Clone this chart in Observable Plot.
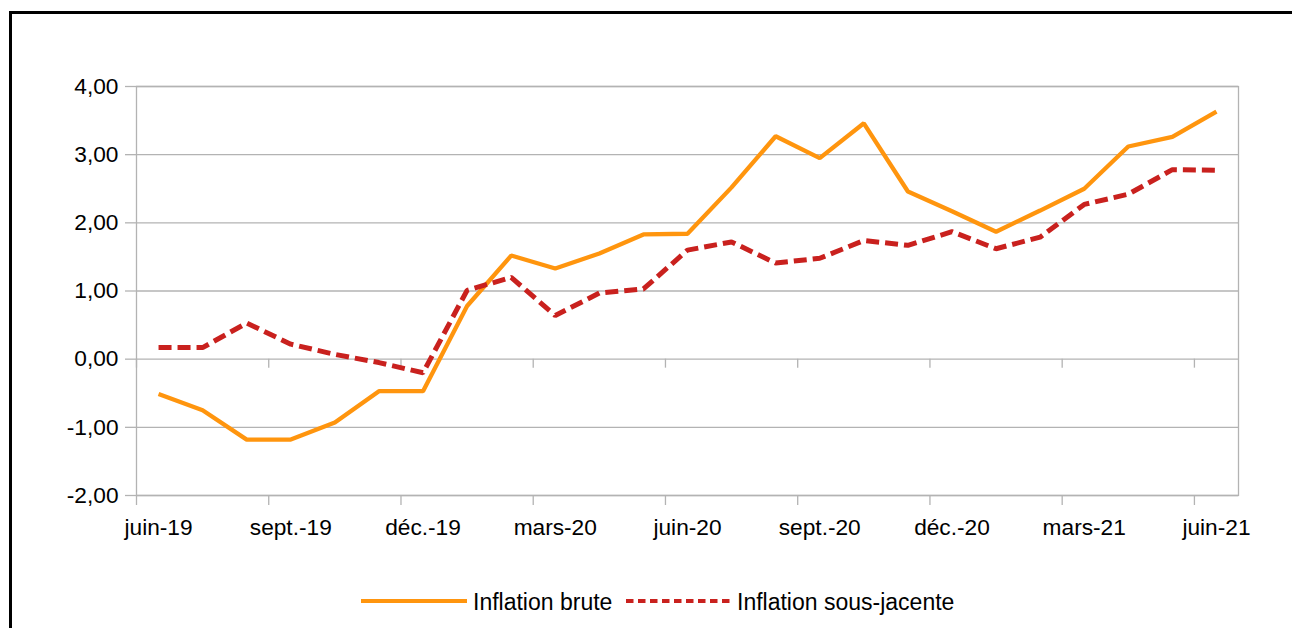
<!DOCTYPE html>
<html>
<head>
<meta charset="utf-8">
<script src="https://cdn.jsdelivr.net/npm/d3@7"></script>
<script src="https://cdn.jsdelivr.net/npm/@observablehq/plot@0.6"></script>
<style>
  html, body { margin: 0; padding: 0; background: #fff; }
  body { width: 1292px; height: 628px; position: relative; overflow: hidden; font-family: "Liberation Sans", Arial, sans-serif; }
  #frame { position: absolute; left: 9px; top: 11px; width: 1400px; height: 700px; border-left: 3px solid #000; border-top: 3px solid #000; box-sizing: border-box; }
  #chart { position: absolute; left: 0; top: 0; }
  #legend { position: absolute; left: 0; top: 0; width: 1292px; height: 628px; pointer-events: none; }
</style>
</head>
<body>
<div id="frame"></div>
<div id="chart"></div>
<div id="legend"></div>
<script>
// ---- data ----
const months = ["juin-19","juil.-19","août-19","sept.-19","oct.-19","nov.-19","déc.-19",
  "janv.-20","févr.-20","mars-20","avr.-20","mai-20","juin-20","juil.-20","août-20","sept.-20",
  "oct.-20","nov.-20","déc.-20","janv.-21","févr.-21","mars-21","avr.-21","mai-21","juin-21"];
const inflationBrute = [-0.51,-0.75,-1.18,-1.18,-0.93,-0.47,-0.47,0.78,1.52,1.33,1.55,1.83,1.84,
  2.52,3.27,2.95,3.46,2.46,2.17,1.87,2.18,2.50,3.12,3.26,3.63];
const inflationSousJacente = [0.17,0.17,0.53,0.22,0.07,-0.05,-0.20,1.01,1.20,0.64,0.97,1.03,1.60,
  1.72,1.41,1.48,1.74,1.67,1.87,1.62,1.79,2.27,2.42,2.78,2.77];
const yTicks = [-2,-1,0,1,2,3,4];
const labelIndex = [0,3,6,9,12,15,18,21,24];
const seriesNames = ["Inflation brute","Inflation sous-jacente"];

// ---- build table ----
const rows = months.map((m, i) => ({i, month: m, brute: inflationBrute[i], sj: inflationSousJacente[i]}));
const boundaries = labelIndex.map(i => i - 0.5);
const gray = "#b3b3b3";
const orange = "#ff950e";
const red = "#c9211e";
const fmt = d => d.toFixed(2).replace(".", ",");
const FONT = "Liberation Sans, Arial, sans-serif";

const chart = Plot.plot({
  width: 1292,
  height: 560,
  marginLeft: 136,
  marginRight: 54,
  marginTop: 86,
  marginBottom: 65,
  style: {fontFamily: FONT, fontSize: "22.7px", color: "#000", background: "transparent", overflow: "visible"},
  x: {type: "linear", domain: [-0.5, months.length - 0.5], axis: null},
  y: {domain: [-2, 4], axis: null},
  marks: [
    Plot.ruleY(yTicks, {stroke: gray, strokeWidth: 1.3}),
    Plot.frame({stroke: gray, strokeWidth: 1.3}),
    Plot.ruleX(boundaries, {x: d => d, y1: 0, y2: 0, insetBottom: -9, stroke: gray, strokeWidth: 1.3}),
    Plot.axisY(yTicks, {label: null, tickSize: 11, tickPadding: 7, tickFormat: fmt, stroke: gray, strokeWidth: 1.3, strokeOpacity: 1, fill: "#000"}),
    Plot.axisX(boundaries, {label: null, tickSize: 10, tickFormat: () => "", stroke: gray, strokeWidth: 1.3, strokeOpacity: 1}),
    Plot.axisX(labelIndex, {label: null, tickSize: 0, tickPadding: 23, tickFormat: d => months[d], fill: "#000"}),
    Plot.line(rows, {x: "i", y: "brute", stroke: orange, strokeWidth: 4.3, strokeLinejoin: "miter", strokeLinecap: "butt"}),
    Plot.line(rows, {x: "i", y: "sj", stroke: red, strokeWidth: 5, strokeDasharray: "13,6", strokeLinejoin: "miter", strokeLinecap: "butt"})
  ]
});
document.getElementById("chart").appendChild(chart);

// ---- legend ----
const lg = document.getElementById("legend");
const ns = "http://www.w3.org/2000/svg";
const sw = document.createElementNS(ns, "svg");
sw.setAttribute("width", 1292); sw.setAttribute("height", 628);
sw.style.position = "absolute"; sw.style.left = "0"; sw.style.top = "0";
function mk(tag, attrs) {
  const el = document.createElementNS(ns, tag);
  for (const k in attrs) el.setAttribute(k, attrs[k]);
  sw.appendChild(el);
  return el;
}
mk("line", {x1: 361, x2: 467, y1: 601, y2: 601, stroke: orange, "stroke-width": 4});
mk("line", {x1: 626, x2: 730, y1: 601, y2: 601, stroke: red, "stroke-width": 4, "stroke-dasharray": "7.5,4.5"});
mk("text", {x: 473, y: 610, "font-family": FONT, "font-size": "23px", fill: "#000"}).textContent = seriesNames[0];
mk("text", {x: 737, y: 610, "font-family": FONT, "font-size": "23px", fill: "#000"}).textContent = seriesNames[1];
lg.appendChild(sw);
</script>
</body>
</html>
